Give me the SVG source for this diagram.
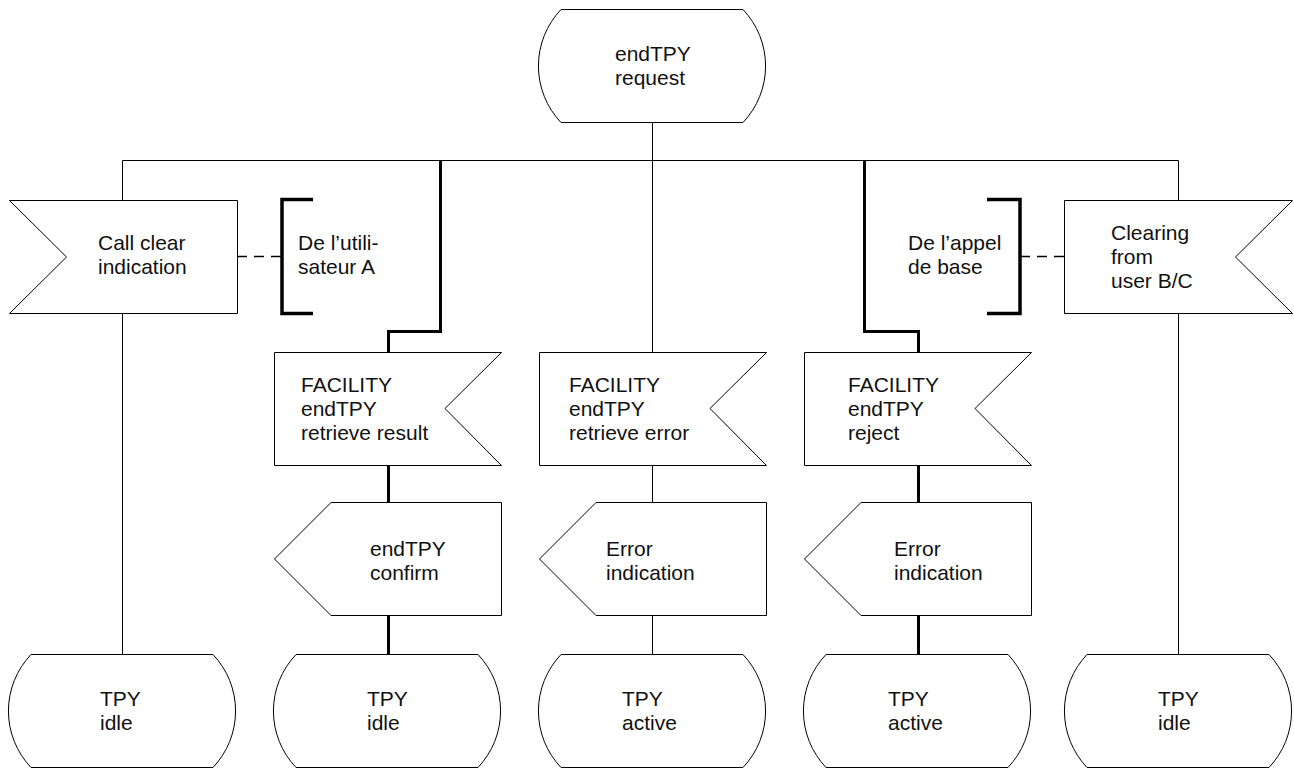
<svg xmlns="http://www.w3.org/2000/svg" width="1294" height="769" viewBox="0 0 1294 769">
<style>
.shape{fill:#fff;stroke:#000;stroke-width:1}
.thin{fill:none;stroke:#000;stroke-width:1}
.thick{fill:none;stroke:#000;stroke-width:3}
.dash{fill:none;stroke:#000;stroke-width:1.5;stroke-dasharray:10 7}
.br{fill:none;stroke:#000;stroke-width:3.5}
text{font-family:"Liberation Sans",Arial,sans-serif;font-size:21px;fill:#111}
</style>
<rect width="1294" height="769" fill="#fff"/>
<g id="connectors">
<path class="thin" d="M122.5 160.5 H1178.5"/>
<path class="thin" d="M652.5 123 V352"/>
<path class="thin" d="M122.5 160.5 V200 M122.5 313 V654"/>
<path class="thin" d="M1178.5 160.5 V200 M1178.5 313 V654"/>
<path class="thick" d="M440.5 160.5 V331.5 H388.5 V352"/>
<path class="thick" d="M864.5 160.5 V331.5 H918.5 V352"/>
<path class="thick" d="M388.5 465 V502 M388.5 616 V654"/>
<path class="thin" d="M652.5 465 V502 M652.5 616 V654"/>
<path class="thick" d="M918.5 465 V502 M918.5 616 V654"/>
<path class="dash" d="M237 256.5 H282"/>
<path class="dash" d="M1020 256.5 H1064"/>
</g>
<g id="start">
<path class="shape" d="M561 9.5 H743 A82 82 0 0 1 743 122.5 H561 A82 82 0 0 1 561 9.5 Z"/>
<text x="615" y="61">endTPY</text>
<text x="615" y="85">request</text>
</g>
<g id="callclear">
<path class="shape" d="M9.5 200.5 H237.5 V313.5 H9.5 L66.5 257 Z"/>
<text x="98" y="250">Call clear</text>
<text x="98" y="274">indication</text>
</g>
<g id="comment-a">
<path class="br" d="M313 199.5 H282 V313.5 H313"/>
<text x="298" y="250">De l’utili-</text>
<text x="298" y="274">sateur A</text>
</g>
<g id="comment-b">
<path class="br" d="M987 199.5 H1020 V313.5 H987"/>
<text x="908" y="250">De l’appel</text>
<text x="908" y="274">de base</text>
</g>
<g id="clearing">
<path class="shape" d="M1064.5 200.5 H1292.5 L1235.5 257 L1292.5 313.5 H1064.5 Z"/>
<text x="1111" y="240">Clearing</text>
<text x="1111" y="264">from</text>
<text x="1111" y="288">user B/C</text>
</g>
<g id="fac-result">
<path class="shape" d="M274.5 352.5 H501.5 L445 408.5 L501.5 465.5 H274.5 Z"/>
<text x="301" y="392">FACILITY</text>
<text x="301" y="416">endTPY</text>
<text x="301" y="440">retrieve result</text>
</g>
<g id="fac-error">
<path class="shape" d="M539.5 352.5 H766.5 L710 408.5 L766.5 465.5 H539.5 Z"/>
<text x="569" y="392">FACILITY</text>
<text x="569" y="416">endTPY</text>
<text x="569" y="440">retrieve error</text>
</g>
<g id="fac-reject">
<path class="shape" d="M804.5 352.5 H1031.5 L975 408.5 L1031.5 465.5 H804.5 Z"/>
<text x="848" y="392">FACILITY</text>
<text x="848" y="416">endTPY</text>
<text x="848" y="440">reject</text>
</g>
<g id="out-confirm">
<path class="shape" d="M331 502.5 H501.5 V615.5 H331 L274.5 559 Z"/>
<text x="370" y="556">endTPY</text>
<text x="370" y="580">confirm</text>
</g>
<g id="out-error1">
<path class="shape" d="M596 502.5 H766.5 V615.5 H596 L539.5 559 Z"/>
<text x="606" y="556">Error</text>
<text x="606" y="580">indication</text>
</g>
<g id="out-error2">
<path class="shape" d="M861 502.5 H1031.5 V615.5 H861 L804.5 559 Z"/>
<text x="894" y="556">Error</text>
<text x="894" y="580">indication</text>
</g>
<g id="s1">
<path class="shape" d="M31 654.5 H213 A82 82 0 0 1 213 767.5 H31 A82 82 0 0 1 31 654.5 Z"/>
<text x="100" y="706">TPY</text>
<text x="100" y="730">idle</text>
</g>
<g id="s2">
<path class="shape" d="M296 654.5 H478 A82 82 0 0 1 478 767.5 H296 A82 82 0 0 1 296 654.5 Z"/>
<text x="367" y="706">TPY</text>
<text x="367" y="730">idle</text>
</g>
<g id="s3">
<path class="shape" d="M561 654.5 H743 A82 82 0 0 1 743 767.5 H561 A82 82 0 0 1 561 654.5 Z"/>
<text x="622" y="706">TPY</text>
<text x="622" y="730">active</text>
</g>
<g id="s4">
<path class="shape" d="M826 654.5 H1008 A82 82 0 0 1 1008 767.5 H826 A82 82 0 0 1 826 654.5 Z"/>
<text x="888" y="706">TPY</text>
<text x="888" y="730">active</text>
</g>
<g id="s5">
<path class="shape" d="M1087 654.5 H1269 A82 82 0 0 1 1269 767.5 H1087 A82 82 0 0 1 1087 654.5 Z"/>
<text x="1158" y="706">TPY</text>
<text x="1158" y="730">idle</text>
</g>
</svg>
